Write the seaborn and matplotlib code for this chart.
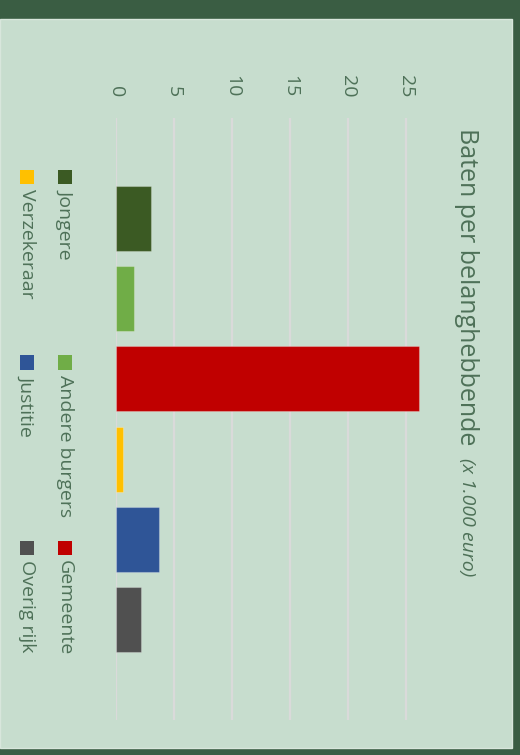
import matplotlib
matplotlib.use("Agg")
import matplotlib.pyplot as plt
from matplotlib.patches import Rectangle
import seaborn as sns

# --- data --- #
categories = ["Jongere", "Andere burgers", "Gemeente", "Verzekeraar", "Justitie", "Overig rijk"]
values = [3.0, 1.6, 26.1, 0.65, 3.7, 2.2]
colors = ["#3b5a23", "#70ad47", "#c00000", "#ffc000", "#2f5597", "#505050"]
ticks = [0, 5, 10, 15, 20, 25]
title_main = "Baten per belanghebbende"
title_unit = "(x 1.000 euro)"

sns.set_theme(style="white")
plt.rcParams['font.family'] = ['Open Sans', 'DejaVu Sans']

W, H = 520, 755
txt_col = "#4e7158"
fig = plt.figure(figsize=(W / 100, H / 100), dpi=100, facecolor="#3a5d43")

# light panel (behind the axes)
fig.patches.append(Rectangle((0, 7 / H), 512 / W, (748 - 19) / H,
                             transform=fig.transFigure, facecolor="#c7ddce",
                             edgecolor="#d8e6dc", lw=1, zorder=-5))

# chart is drawn rotated a quarter turn clockwise
ax = fig.add_axes([115.7 / W, 35 / H, 314 / W, 602 / H])
ax.set_facecolor("none")
ax.set_zorder(2)
sns.barplot(x=values, y=categories, hue=categories, palette=colors, orient="h",
            width=0.81, saturation=1, legend=False, ax=ax, zorder=3,
            edgecolor=(1, 1, 1, 0.25), linewidth=0.8)
ax.set_xlim(0, 27)
ax.set_ylim(6.25, -1.25)
ax.set_xticks(ticks)
ax.set_xticklabels([str(t) for t in ticks], rotation=-90, color=txt_col, fontsize=14)
ax.xaxis.tick_top()
ax.tick_params(axis="x", length=0, pad=15)
ax.set_yticks([])
ax.set_xlabel("")
ax.set_ylabel("")
ax.grid(axis="x", color="#dadada", lw=1.6, zorder=0)
ax.set_axisbelow(True)
for s in ax.spines.values():
    s.set_visible(False)

# title
fig.text(467 / W, 1 - 128 / H, title_main, rotation=-90, ha="center", va="top",
         fontsize=18, color=txt_col)
fig.text(467 / W, 1 - 458 / H, title_unit, rotation=-90, ha="center", va="top",
         fontsize=14, color=txt_col, style="italic")

# legend (rotated)
for i, (cat, c) in enumerate(zip(categories, colors)):
    row, col = divmod(i, 3)
    xc = 65 if row == 0 else 27
    y0 = 170 + col * 185.5
    fig.patches.append(Rectangle(((xc - 7) / W, 1 - (y0 + 14) / H), 14 / W, 14 / H,
                                 transform=fig.transFigure, facecolor=c,
                                 edgecolor="none", zorder=2))
    fig.text(xc / W, 1 - (y0 + 19) / H, cat, rotation=-90, ha="center", va="top",
             fontsize=14, color=txt_col)

fig.savefig("out.png", dpi=100, facecolor=fig.get_facecolor())
